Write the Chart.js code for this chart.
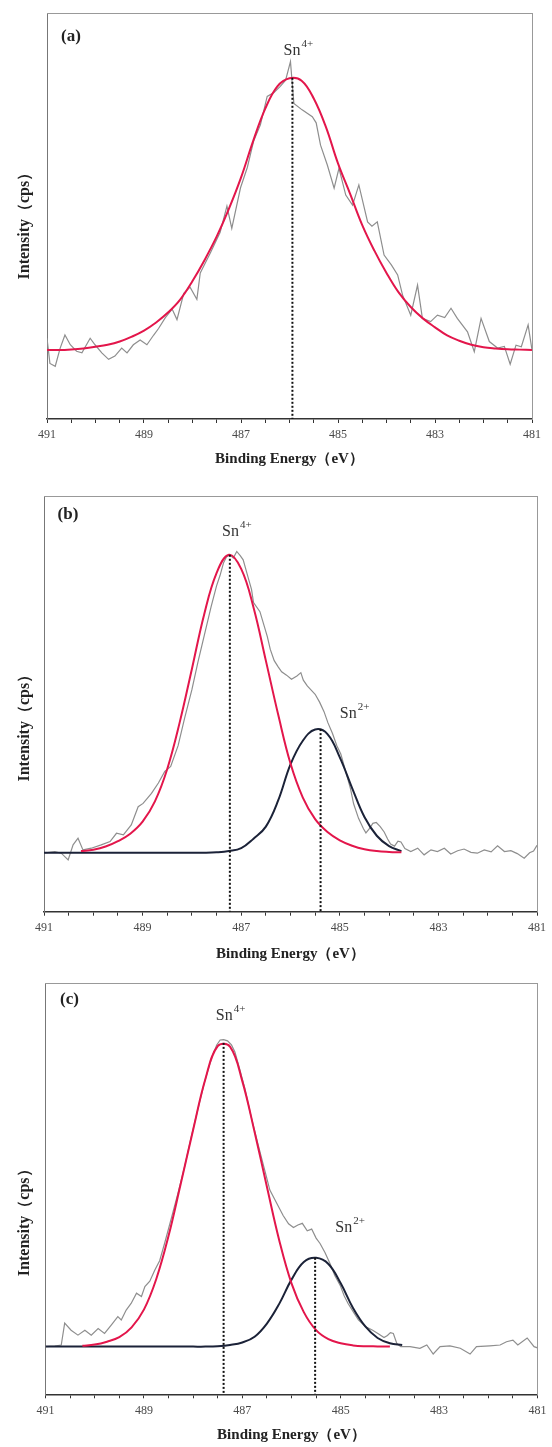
<!DOCTYPE html>
<html>
<head>
<meta charset="utf-8">
<script src="https://cdn.jsdelivr.net/npm/chart.js@4.4.1/dist/chart.umd.min.js"></script>
<style>
  html, body { margin: 0; padding: 0; background: #fff; }
  body { width: 552px; height: 1447px; position: relative; overflow: hidden; }
  canvas { position: absolute; left: 0; }
</style>
</head>
<body>
<canvas id="chartA" width="552" height="480" style="top:0px;width:552px;height:480px"></canvas>
<canvas id="chartB" width="552" height="490" style="top:480px;width:552px;height:490px"></canvas>
<canvas id="chartC" width="552" height="477" style="top:970px;width:552px;height:477px"></canvas>
<script>
// ---- data (binding energy in eV, intensity in arbitrary units 0-100) ----

// energy grid shared by the fitted curves
const fitEnergy = [491, 490.75, 490.5, 490.25, 490, 489.75, 489.5, 489.25, 489, 488.75,
  488.5, 488.25, 488, 487.75, 487.5, 487.25, 487, 486.75, 486.5, 486.25,
  486, 485.75, 485.5, 485.25, 485, 484.75, 484.5, 484.25, 484, 483.75,
  483.5, 483.25, 483, 482.75, 482.5, 482.25, 482, 481.75, 481.5, 481.25, 481];

// (a) raw spectrum
const rawEnergyA = [491.0,490.94,490.83,490.73,490.63,490.52,490.39,490.28,490.11,490.01,489.87,489.73,489.60,489.46,489.35,489.22,489.08,488.94,488.80,488.70,488.56,488.42,488.32,488.18,488.05,487.91,487.84,487.63,487.43,487.29,487.19,487.01,486.87,486.74,486.60,486.46,486.32,486.19,486.08,485.98,485.91,485.74,485.53,485.45,485.36,485.22,485.08,484.98,484.84,484.70,484.57,484.39,484.30,484.19,484.05,483.90,483.77,483.67,483.50,483.36,483.26,483.09,482.95,482.80,482.67,482.54,482.33,482.19,482.05,481.88,481.71,481.57,481.45,481.33,481.22,481.08,481.0];
const rawIntensityA = [19.9,13.7,13.0,17.4,20.7,18.3,16.7,16.3,19.9,18.3,16.3,14.7,15.5,17.5,16.3,18.3,19.5,18.3,20.7,22.3,25.0,27.1,24.5,31.0,32.5,29.5,36.0,41.0,46.0,52.5,47.0,57.0,62.0,68.5,72.5,79.5,80.5,82.0,83.5,88.1,77.8,76.2,74.5,73.0,67.5,62.6,56.9,61.8,55.2,52.7,57.7,48.6,47.5,48.6,40.4,38.0,35.5,30.6,25.6,33.0,24.8,24.0,25.6,25.0,27.3,24.8,21.5,16.6,24.8,19.1,17.5,17.9,13.5,18.2,17.8,23.2,17.0];
const fitSn4A = [17.0,17.0,17.15,17.4,17.8,18.3,19.1,20.3,21.8,23.8,26.3,29.5,34.0,39.2,45.0,51.8,59.5,68.5,76.5,82.0,84.0,83.4,79.0,72.0,63.0,55.5,47.8,41.5,36.0,31.2,27.6,24.8,22.6,20.6,19.3,18.3,17.7,17.4,17.2,17.1,17.0];
const peakEnergyA = [485.94];
const peakTopA = [84.1];
const peakChargeA = ['4+'];

// (b)
const rawEnergyB = [491.0,490.78,490.65,490.51,490.41,490.31,490.21,490.04,489.84,489.66,489.53,489.39,489.23,489.09,488.99,488.82,488.68,488.55,488.43,488.28,488.15,488.0,487.88,487.75,487.61,487.5,487.43,487.36,487.3,487.23,487.16,487.09,487.02,486.96,486.87,486.79,486.75,486.62,486.47,486.41,486.33,486.25,486.18,486.08,485.98,485.87,485.79,485.74,485.66,485.58,485.5,485.41,485.32,485.24,485.15,485.06,484.98,484.92,484.85,484.78,484.72,484.62,484.52,484.47,484.4,484.33,484.26,484.18,484.1,484.03,483.97,483.89,483.82,483.76,483.68,483.56,483.42,483.29,483.15,483.02,482.88,482.75,482.61,482.48,482.34,482.21,482.07,481.93,481.8,481.66,481.53,481.4,481.26,481.15,481.07,481.0];
const rawIntensityB = [14.1,14.5,14.1,12.5,16.1,17.7,14.9,15.3,16.1,16.9,18.9,18.5,20.9,25.3,26.1,28.5,31.0,33.8,35.0,40.0,46.5,53.5,60.0,66.5,73.5,78.5,81.0,84.0,85.5,86.0,85.2,86.8,85.8,84.8,81.0,77.6,74.5,72.3,66.3,63.2,60.5,59.0,57.8,57.0,56.0,56.8,57.6,55.8,54.4,53.4,52.4,50.5,48.2,45.5,43.0,40.0,38.0,35.5,32.5,29.5,26.0,22.5,20.0,19.0,20.0,21.3,21.5,20.5,19.2,17.5,16.3,15.8,17.0,16.8,15.2,14.5,15.3,13.7,14.9,14.5,15.3,13.9,14.7,15.1,14.3,14.1,14.9,14.4,15.9,14.5,14.7,14.0,12.9,14.2,14.6,16.0];
const fitSn4B = [null,null,null,14.6,14.95,15.7,17.0,18.8,21.7,26.6,34.4,45.5,58.5,71.7,81.6,86.0,82.6,73.3,60.5,47.5,35.7,27.5,22.3,19.2,17.2,15.9,15.05,14.6,14.4,14.3,null,null,null,null,null,null,null,null,null,null,null];
const fitSn2B = [14.2,14.2,14.2,14.2,14.2,14.2,14.2,14.2,14.2,14.2,14.2,14.2,14.2,14.2,14.3,14.6,15.3,17.6,20.5,26.8,35.5,41.2,43.9,42.8,37.2,29.8,22.8,18.3,15.8,14.6,null,null,null,null,null,null,null,null,null,null,null];
const peakEnergyB = [487.23, 485.39];
const peakTopB = [86.0, 44.0];
const peakChargeB = ['4+', '2+'];

// (c)
const rawEnergyC = [491.0,490.81,490.68,490.61,490.48,490.34,490.20,490.07,489.93,489.80,489.66,489.53,489.46,489.36,489.26,489.15,489.05,488.98,488.88,488.78,488.68,488.58,488.45,488.31,488.17,488.04,487.90,487.76,487.62,487.52,487.45,487.38,487.30,487.22,487.15,487.05,486.95,486.82,486.68,486.55,486.44,486.30,486.17,486.06,485.96,485.87,485.78,485.68,485.59,485.50,485.42,485.32,485.22,485.12,485.01,484.93,484.85,484.74,484.64,484.50,484.35,484.22,484.12,484.05,483.99,483.93,483.86,483.78,483.59,483.39,483.25,483.12,482.98,482.78,482.57,482.37,482.24,481.97,481.76,481.63,481.50,481.40,481.21,481.07,481.0];
const rawIntensityC = [11.6,11.7,12.0,17.3,15.6,14.4,15.6,14.4,16.0,14.8,16.9,18.9,18.1,20.5,22.1,24.6,23.8,26.2,27.5,30.2,32.5,36.7,42.5,48.8,55.5,62.5,69.5,76.3,82.0,85.0,86.2,86.3,86.0,85.0,83.3,79.0,74.5,67.5,60.8,54.8,49.7,46.5,43.5,41.5,40.6,41.2,41.6,39.8,40.2,38.0,36.7,34.5,31.9,28.9,26.5,24.0,22.1,20.0,18.1,16.5,15.6,14.6,13.8,14.3,15.0,14.8,12.4,11.6,11.6,11.2,12.0,9.8,11.6,11.8,11.2,9.8,11.6,11.8,12.0,12.8,13.2,12.0,13.7,11.6,11.3];
const fitSn4C = [null,null,null,11.8,12.1,12.8,13.9,16.3,20.6,28.0,38.5,51.3,64.3,76.7,84.7,84.6,76.2,63.8,50.5,37.5,27.0,20.0,15.6,13.4,12.4,11.9,11.7,11.65,11.6,null,null,null,null,null,null,null,null,null,null,null,null];
const fitSn2C = [11.6,11.6,11.6,11.6,11.6,11.6,11.6,11.6,11.6,11.6,11.6,11.6,11.6,11.6,11.7,12.0,12.6,14.0,17.2,22.0,27.9,32.2,33.2,31.7,27.0,21.0,16.5,13.7,12.4,12.0,null,null,null,null,null,null,null,null,null,null,null];
const peakEnergyC = [487.38, 485.52];
const peakTopC = [85.5, 33.2];
const peakChargeC = ['4+', '2+'];

// ---- drawing ----
const SERIF = "'Liberation Serif', 'Times New Roman', Times, serif";
const RED = '#e3164b';
const NAVY = '#1b2238';

function xy(xs, ys) {
  return xs.map((x, i) => ({ x: x, y: ys[i] }));
}

function makePanel(id, p) {
  const datasets = [];
  // dotted peak markers on top
  p.peakE.forEach((e, i) => {
    datasets.push({
      data: [{ x: e, y: p.peakTop[i] }, { x: e, y: 0 }],
      borderColor: '#111', borderWidth: 2, borderDash: [2, 2], order: 0
    });
  });
  datasets.push({ data: xy(fitEnergy, p.sn4), borderColor: RED, borderWidth: 2, tension: 0.4, order: 1 });
  if (p.sn2) {
    datasets.push({ data: xy(fitEnergy, p.sn2), borderColor: NAVY, borderWidth: 2, tension: 0.4, order: 2 });
  }
  datasets.push({ data: xy(p.rawE, p.rawI), borderColor: '#8e8e8e', borderWidth: 1.2, tension: 0, order: 3 });

  const labels = {
    id: 'labels' + id,
    afterDatasetsDraw(chart) {
      const ctx = chart.ctx;
      const ca = chart.chartArea;
      const xs = chart.scales.x, ys = chart.scales.y;
      ctx.save();
      ctx.fillStyle = '#222';
      // panel letter
      ctx.font = 'bold 17px ' + SERIF;
      ctx.textAlign = 'center';
      ctx.textBaseline = 'middle';
      ctx.fillText(p.letter, ca.left + 24, ca.top + p.letterDy);
      // peak labels
      p.peakE.forEach((e, i) => {
        const cx = xs.getPixelForValue(e) + p.labelDx[i];
        const cy = ys.getPixelForValue(p.peakTop[i]) + p.labelDy[i];
        ctx.font = '16px ' + SERIF;
        const w1 = ctx.measureText('Sn').width;
        ctx.font = '11px ' + SERIF;
        const w2 = ctx.measureText(p.charge[i]).width;
        const x0 = cx - (w1 + w2 + 1) / 2;
        ctx.fillStyle = '#333';
        ctx.textAlign = 'left';
        ctx.textBaseline = 'alphabetic';
        ctx.font = '16px ' + SERIF;
        ctx.fillText('Sn', x0, cy + 5);
        ctx.font = '11px ' + SERIF;
        ctx.fillText(p.charge[i], x0 + w1 + 1, cy - 3);
      });
      // y axis title
      ctx.fillStyle = '#222';
      ctx.font = 'bold 16px ' + SERIF;
      ctx.textAlign = 'center';
      ctx.textBaseline = 'middle';
      ctx.translate(25, (ca.top + ca.bottom) / 2 + p.yTitleDy);
      ctx.rotate(-Math.PI / 2);
      ctx.fillText('Intensity（cps）', 0, 0);
      ctx.restore();
    }
  };

  return new Chart(document.getElementById(id), {
    type: 'line',
    data: { datasets: datasets },
    plugins: [labels],
    options: {
      responsive: false,
      animation: false,
      events: [],
      layout: { padding: { left: p.area.left, top: p.area.top, right: 552 - p.area.right, bottom: 0 } },
      plugins: { legend: { display: false }, tooltip: { enabled: false } },
      elements: { point: { radius: 0 } },
      scales: {
        x: {
          type: 'linear', position: 'bottom', min: 481, max: 491, reverse: true,
          ticks: {
            stepSize: 0.5, autoSkip: false, maxRotation: 0, padding: 5,
            color: '#4a4a4a', font: { family: SERIF, size: 12 },
            callback: v => (Number.isInteger(v) && v % 2 === 1) ? String(v) : ''
          },
          grid: { drawOnChartArea: false, drawTicks: true, tickLength: 4, color: '#333', lineWidth: 1 },
          border: { color: '#333', width: 1.5 },
          title: {
            display: true, text: 'Binding Energy（eV）', color: '#222',
            font: { family: SERIF, size: 15, weight: 'bold' },
            padding: { top: 0, bottom: p.titlePad }
          },
          afterFit: s => { s.height = p.canvasH - p.area.bottom; }
        },
        y: {
          type: 'linear', position: 'left', min: 0, max: 100,
          ticks: { display: false }, grid: { display: false },
          border: { color: '#777', width: 1 },
          afterFit: s => { s.width = 0; }
        },
        x2: {
          type: 'linear', position: 'top', display: true,
          ticks: { display: false }, grid: { display: false },
          border: { color: '#999', width: 1 },
          afterFit: s => { s.height = 0; }
        },
        y2: {
          type: 'linear', position: 'right', display: true,
          ticks: { display: false }, grid: { display: false },
          border: { color: '#999', width: 1 },
          afterFit: s => { s.width = 0; }
        }
      }
    }
  });
}

makePanel('chartA', {
  canvasH: 480, area: { left: 47, top: 13.3, right: 532, bottom: 419 }, titlePad: 12,
  letter: '(a)', letterDy: 23, yTitleDy: 6,
  rawE: rawEnergyA, rawI: rawIntensityA, sn4: fitSn4A, sn2: null,
  peakE: peakEnergyA, peakTop: peakTopA, charge: peakChargeA,
  labelDx: [6], labelDy: [-28]
});

makePanel('chartB', {
  canvasH: 490, area: { left: 44, top: 16.7, right: 537, bottom: 431.7 }, titlePad: 7,
  letter: '(b)', letterDy: 18, yTitleDy: 20,
  rawE: rawEnergyB, rawI: rawIntensityB, sn4: fitSn4B, sn2: fitSn2B,
  peakE: peakEnergyB, peakTop: peakTopB, charge: peakChargeB,
  labelDx: [7, 34], labelDy: [-24, -16]
});

makePanel('chartC', {
  canvasH: 477, area: { left: 45.5, top: 13.3, right: 537.5, bottom: 424.3 }, titlePad: 3,
  letter: '(c)', letterDy: 16, yTitleDy: 30,
  rawE: rawEnergyC, rawI: rawIntensityC, sn4: fitSn4C, sn2: fitSn2C,
  peakE: peakEnergyC, peakTop: peakTopC, charge: peakChargeC,
  labelDx: [7, 35], labelDy: [-28, -31]
});
</script>
</body>
</html>
